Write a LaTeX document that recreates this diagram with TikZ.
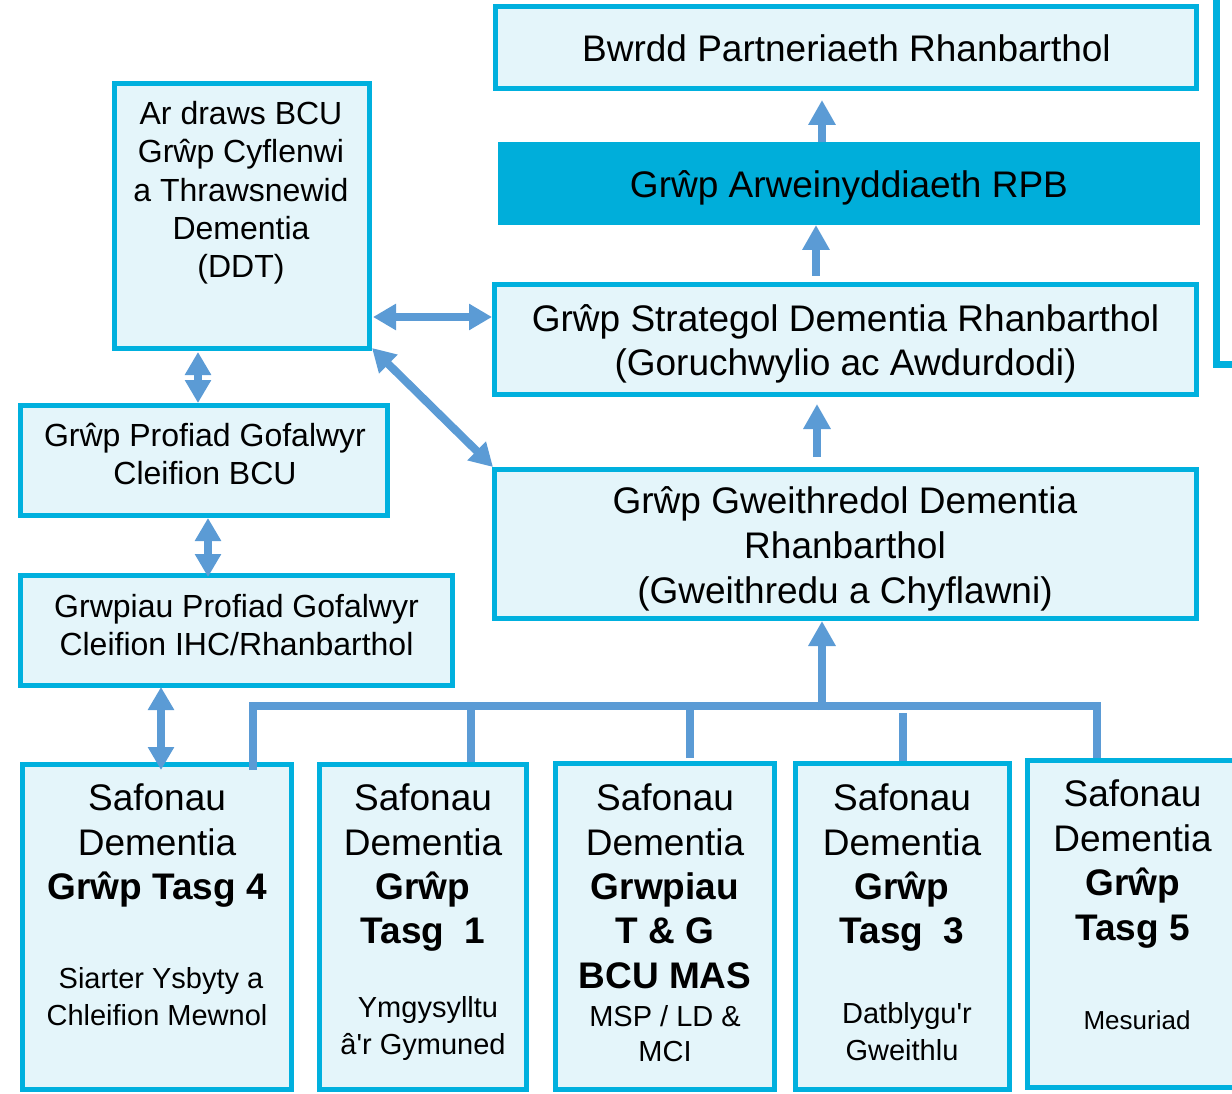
\documentclass[tikz,border=0pt]{standalone}
\usepackage{fontspec}
\setmainfont{Liberation Sans}
\usetikzlibrary{arrows.meta,calc}
\definecolor{bord}{HTML}{00B0DE}
\definecolor{boxfill}{HTML}{E4F5FA}
\definecolor{rpbfill}{HTML}{00AEDA}
\definecolor{arrc}{HTML}{5B9BD5}
\newcommand\tline[5]{\node[txt,#4] (#1) at (#2,#3) {#5};}
\tikzset{
  box/.style={draw=bord, line width=5pt, fill=boxfill, inner sep=0pt},
  txt/.style={inner sep=0pt, text depth=0pt, anchor=center},
  fA/.style={font=\fontsize{37}{44}\selectfont, text height=26.6pt},
  fAb/.style={font=\fontsize{37}{44}\selectfont\bfseries, text height=26.6pt},
  fB/.style={font=\fontsize{32}{38}\selectfont, text height=23pt},
  fC/.style={font=\fontsize{29}{36}\selectfont, text height=20.9pt},
  fD/.style={font=\fontsize{26}{32}\selectfont, text height=18.7pt},
  conn/.style={draw=arrc, line width=8pt},
  arr/.style={draw=arrc, line width=8pt, -{Triangle[width=26pt,length=25pt]}},
  arrd/.style={draw=arrc, line width=8pt, {Triangle[width=25pt,length=23pt]}-{Triangle[width=25pt,length=23pt]}},
}
\begin{document}
\begin{tikzpicture}[x=1pt,y=-1pt]
\useasboundingbox (0,0) rectangle (1232,1094);
% boxes
\node[box, minimum width=701, minimum height=82] (bwrdd) at (846,47.5) {};
\node[fill=rpbfill, draw=none, inner sep=0pt, outer sep=0pt, minimum width=702, minimum height=83] (rpb) at (849,183.5) {};
\node[box, minimum width=702, minimum height=110] (strat) at (845.5,339.5) {};
\node[box, minimum width=702, minimum height=149] (gweith) at (845.5,544) {};
\node[box, minimum width=255, minimum height=265] (ddt) at (242,216) {};
\node[box, minimum width=367, minimum height=110] (prof) at (204,460.5) {};
\node[box, minimum width=432, minimum height=110] (grwp) at (236.5,630.5) {};
\node[box, minimum width=269, minimum height=325] (t4) at (157,927) {};
\node[box, minimum width=207, minimum height=325] (t1) at (423,927) {};
\node[box, minimum width=219, minimum height=326] (tg) at (665,926.5) {};
\node[box, minimum width=214, minimum height=326] (t3) at (902.5,926.5) {};
\node[box, minimum width=220, minimum height=327] (t5) at (1137.5,924) {};
% partial box at right edge
\draw[draw=bord, line width=7pt] (1216,-10) -- (1216,364) -- (1250,364);
% texts
\tline{b1}{846.5}{48}{fA}{Bwrdd Partneriaeth Rhanbarthol}
\tline{r1}{849}{184}{fA}{Grŵp Arweinyddiaeth RPB}
\tline{s1}{845.5}{318}{fA}{Grŵp Strategol Dementia Rhanbarthol}
\tline{s2}{845.5}{362}{fA}{(Goruchwylio ac Awdurdodi)}
\tline{g1}{845}{500}{fA}{Grŵp Gweithredol Dementia}
\tline{g2}{845}{545}{fA}{Rhanbarthol}
\tline{g3}{845}{590}{fA}{(Gweithredu a Chyflawni)}
\tline{d1}{241}{113}{fB}{Ar draws BCU}
\tline{d2}{241}{151}{fB}{Grŵp Cyflenwi}
\tline{d3}{241}{190}{fB}{a Thrawsnewid}
\tline{d4}{241}{228}{fB}{Dementia}
\tline{d5}{241}{266}{fB}{(DDT)}
\tline{p1}{205}{435}{fB}{Grŵp Profiad Gofalwyr}
\tline{p2}{205}{473}{fB}{Cleifion BCU}
\tline{q1}{236.5}{606}{fB}{Grwpiau Profiad Gofalwyr}
\tline{q2}{236.5}{644}{fB}{Cleifion IHC/Rhanbarthol}
% task group 4
\tline{a1}{157}{797}{fA}{Safonau}
\tline{a2}{157}{842}{fA}{Dementia}
\tline{a3}{157}{886}{fAb}{Grŵp Tasg 4}
\tline{a4}{161}{978}{fC}{Siarter Ysbyty a}
\tline{a5}{157}{1015}{fC}{Chleifion Mewnol}
% task group 1
\tline{e1}{423}{797}{fA}{Safonau}
\tline{e2}{423}{842}{fA}{Dementia}
\tline{e3}{423}{886}{fAb}{Grŵp}
\tline{e4}{423}{930}{fAb}{Tasg\ \ 1}
\tline{e5}{428}{1007}{fC}{Ymgysylltu}
\tline{e6}{423}{1044}{fC}{â\textquotesingle r Gymuned}
% T & G
\tline{h1}{665}{797}{fA}{Safonau}
\tline{h2}{665}{842}{fA}{Dementia}
\tline{h3}{665}{886}{fAb}{Grwpiau}
\tline{h4}{665}{930}{fAb}{T \& G}
\tline{h5}{665}{975}{fAb}{BCU MAS}
\tline{h6}{665}{1016}{fC}{MSP / LD \&}
\tline{h7}{665}{1051}{fC}{MCI}
% task group 3
\tline{k1}{902}{797}{fA}{Safonau}
\tline{k2}{902}{842}{fA}{Dementia}
\tline{k3}{902}{886}{fAb}{Grŵp}
\tline{k4}{902}{930}{fAb}{Tasg\ \ 3}
\tline{k5}{907}{1013}{fC}{Datblygu\textquotesingle r}
\tline{k6}{902}{1050}{fC}{Gweithlu}
% task group 5
\tline{m1}{1132.5}{793}{fA}{Safonau}
\tline{m2}{1132.5}{838}{fA}{Dementia}
\tline{m3}{1132.5}{882}{fAb}{Grŵp}
\tline{m4}{1132.5}{927}{fAb}{Tasg 5}
\tline{m5}{1137}{1020}{fD}{Mesuriad}
% right column arrows
\draw[arr] ([xshift=-27pt]rpb.north) -- ([xshift=-24pt,yshift=-9pt]bwrdd.south);
\draw[arr] ([xshift=-29.5pt,yshift=6pt]strat.north) -- ([xshift=-33pt]rpb.south);
\draw[arr] ([xshift=-28.5pt,yshift=10pt]gweith.north) -- ([xshift=-28.5pt,yshift=-7pt]strat.south);
% left arrows
\draw[arrd] ([xshift=1pt,yshift=-101pt]ddt.east) -- ([yshift=22.5pt]strat.west);
\draw[arrd] ([yshift=3pt]ddt.south east) -- ([xshift=1pt]gweith.north west);
\draw[arrd] ([xshift=-44pt,yshift=-1pt]ddt.south) -- ([xshift=-6pt]prof.north);
\draw[arrd] ([xshift=4pt]prof.south) -- ([xshift=-28.5pt,yshift=-4pt]grwp.north);
\draw[arrd] ([xshift=-75.5pt,yshift=1pt]grwp.south) -- ([xshift=4pt,yshift=-8pt]t4.north);
% bottom tree
\coordinate (bus) at (600,706);
\draw[conn] ([xshift=96pt,yshift=-8pt]t4.north) |- (bus) -| ([xshift=-40.5pt]t5.north);
\coordinate (tap1) at ([xshift=48pt]t1.north);
\draw[conn] (tap1) -- (tap1 |- bus);
\coordinate (tapg) at ([xshift=25pt,yshift=3pt]tg.north);
\draw[conn] (tapg) -- (tapg |- bus);
\coordinate (tap3) at ([xshift=0.5pt]t3.north);
\draw[conn] (tap3) -- ($(tap3 |- bus)+(0,7)$);
\coordinate (up) at ([xshift=-23.5pt]gweith.south);
\draw[arr] ($(up |- bus)+(0,4)$) -- (up);
\end{tikzpicture}
\end{document}
